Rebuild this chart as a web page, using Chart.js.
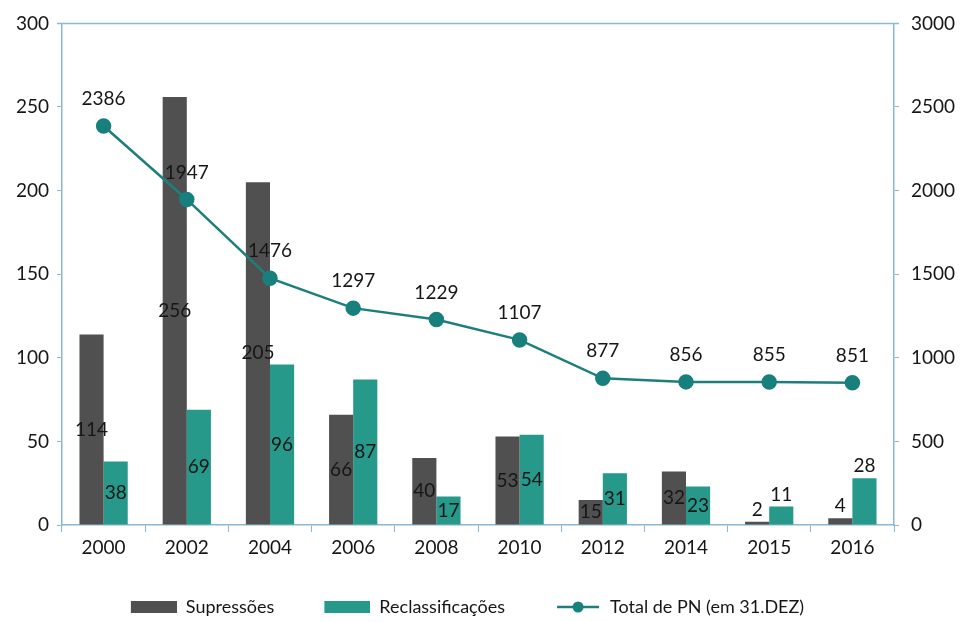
<!DOCTYPE html>
<html>
<head>
<meta charset="utf-8">
<script src="https://cdn.jsdelivr.net/npm/chart.js@4"></script>
<style>
  html, body { margin: 0; padding: 0; background: #fff; }
  #wrap { width: 960px; height: 622px; }
</style>
</head>
<body>
<div id="wrap"><canvas id="grafico" width="960" height="622"></canvas></div>
<script>
const anos = ['2000', '2002', '2004', '2006', '2008', '2010', '2012', '2014', '2015', '2016'];
const supressoes = [114, 256, 205, 66, 40, 53, 15, 32, 2, 4];
const reclassificacoes = [38, 69, 96, 87, 17, 54, 31, 23, 11, 28];
const totalPN = [2386, 1947, 1476, 1297, 1229, 1107, 877, 856, 855, 851];
// anos em que os rótulos das barras ficam por cima da barra
const rotulosFora = ['2015', '2016'];

const corEixo = '#8bb8d4';
const corTexto = '#161616';
const fonte = 'Lato, "Open Sans", sans-serif';

// ícones da legenda: 21px transparentes à esquerda para afastar os itens
const folga = 21;
function iconeCaixa(cor) {
  const c = document.createElement('canvas');
  c.width = 46 + folga; c.height = 12;
  const g = c.getContext('2d');
  g.fillStyle = cor;
  g.fillRect(folga, 0, 46, 12);
  return c;
}
function iconeLinha(cor) {
  const c = document.createElement('canvas');
  c.width = 46 + folga; c.height = 14;
  const g = c.getContext('2d');
  g.strokeStyle = cor; g.lineWidth = 2.5;
  g.beginPath(); g.moveTo(folga + 2, 7); g.lineTo(folga + 44, 7); g.stroke();
  g.fillStyle = '#17807d';
  g.beginPath(); g.arc(folga + 23, 7, 5.5, 0, Math.PI * 2); g.fill();
  return c;
}

const rotulos = {
  id: 'rotulos',
  afterDatasetsDraw(chart) {
    const ctx = chart.ctx;
    ctx.save();
    ctx.font = '19px ' + fonte;
    ctx.fillStyle = corTexto;
    ctx.textAlign = 'center';
    ctx.textBaseline = 'middle';
    chart.data.datasets.forEach((ds, i) => {
      const meta = chart.getDatasetMeta(i);
      meta.data.forEach((el, j) => {
        const v = ds.data[j];
        if (ds.type === 'line') {
          ctx.fillText(v, el.x, el.y - 27);
        } else if (rotulosFora.includes(anos[j])) {
          ctx.fillText(v, el.x, el.y - 12);
        } else {
          ctx.fillText(v, el.x, (el.y + el.base) / 2);
        }
      });
    });
    ctx.restore();
  }
};

// linha superior da moldura + legenda um pouco à esquerda
const moldura = {
  id: 'moldura',
  afterLayout(chart) {
    chart.legend.left -= 23;
    chart.legend.right -= 23;
  },
  beforeDatasetsDraw(chart) {
    const a = chart.chartArea, ctx = chart.ctx;
    ctx.save();
    ctx.strokeStyle = corEixo;
    ctx.lineWidth = 1.5;
    ctx.beginPath();
    ctx.moveTo(a.left - 5, a.top);
    ctx.lineTo(a.right + 5, a.top);
    ctx.stroke();
    ctx.restore();
  }
};

new Chart(document.getElementById('grafico'), {
  data: {
    labels: anos,
    datasets: [
      {
        type: 'line',
        label: 'Total de PN (em 31.DEZ)',
        data: totalPN,
        yAxisID: 'y1',
        borderColor: '#1d7f7c',
        borderWidth: 2.5,
        backgroundColor: '#17807d',
        pointBackgroundColor: '#17807d',
        pointBorderColor: '#17807d',
        pointRadius: 6.5,
        tension: 0,
        order: 0
      },
      {
        type: 'bar',
        label: 'Supressões',
        data: supressoes,
        yAxisID: 'y',
        backgroundColor: '#505050',
        barPercentage: 1,
        categoryPercentage: 0.58,
        order: 1
      },
      {
        type: 'bar',
        label: 'Reclassificações',
        data: reclassificacoes,
        yAxisID: 'y',
        backgroundColor: '#26998a',
        barPercentage: 1,
        categoryPercentage: 0.58,
        order: 1
      }
    ]
  },
  options: {
    responsive: false,
    animation: false,
    layout: { padding: { top: 22, left: 0, right: 0, bottom: 0 } },
    plugins: {
      tooltip: { enabled: false },
      legend: {
        position: 'bottom',
        maxHeight: 53,
        labels: {
          usePointStyle: true,
          pointStyleWidth: 46 + folga,
          padding: 29,
          color: corTexto,
          font: { family: fonte, size: 18 },
          generateLabels(chart) {
            const ordem = [1, 2, 0];
            return ordem.map(i => {
              const ds = chart.data.datasets[i];
              return {
                text: ds.label,
                datasetIndex: i,
                pointStyle: ds.type === 'line' ? iconeLinha(ds.borderColor) : iconeCaixa(ds.backgroundColor),
                fillStyle: 'transparent',
                strokeStyle: 'transparent',
                lineWidth: 0,
                fontColor: corTexto
              };
            });
          }
        }
      }
    },
    scales: {
      x: {
        offset: true,
        grid: {
          offset: true,
          drawOnChartArea: false,
          color: corEixo,
          tickLength: 7
        },
        border: { color: corEixo, width: 1.5 },
        ticks: { color: corTexto, font: { family: fonte, size: 19 }, padding: 4 },
        afterFit(s) { s.height = 44; }
      },
      y: {
        position: 'left',
        min: 0,
        max: 300,
        ticks: { stepSize: 50, color: corTexto, font: { family: fonte, size: 19 }, padding: 8 },
        grid: { drawOnChartArea: false, color: corEixo, tickLength: 5 },
        border: { color: corEixo, width: 1.5 },
        afterFit(s) { s.width = 62; }
      },
      y1: {
        position: 'right',
        min: 0,
        max: 3000,
        ticks: {
          stepSize: 500,
          color: corTexto,
          font: { family: fonte, size: 19 },
          padding: 12,
          callback: v => String(v)
        },
        grid: { drawOnChartArea: false, color: corEixo, tickLength: 5 },
        border: { color: corEixo, width: 1.5 },
        afterFit(s) { s.width = 66; }
      }
    }
  },
  plugins: [moldura, rotulos]
});
</script>
</body>
</html>
